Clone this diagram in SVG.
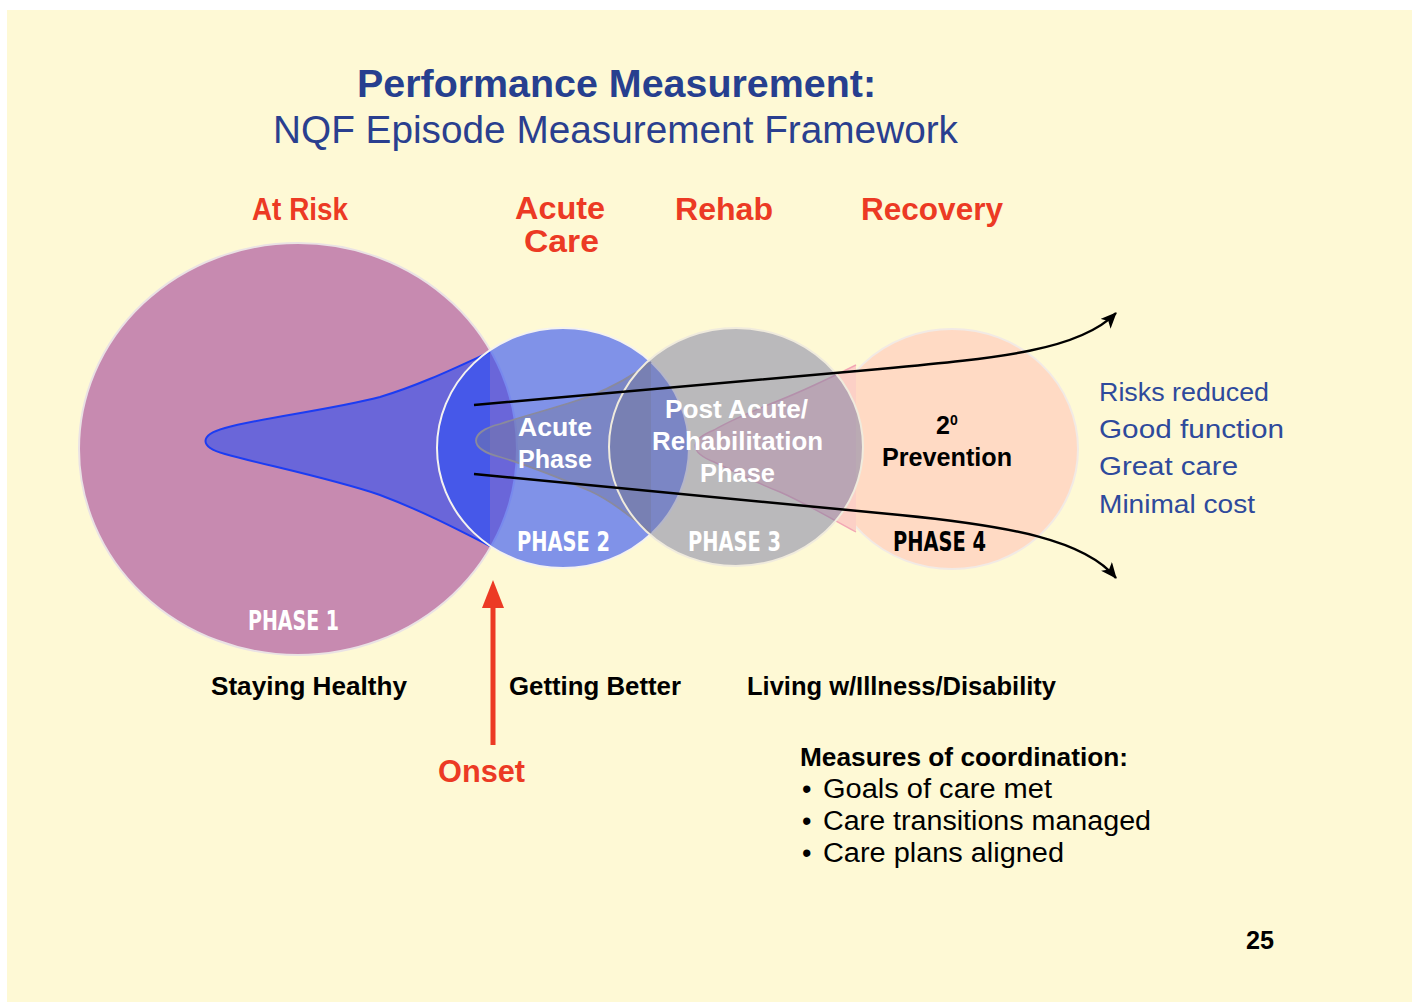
<svg xmlns="http://www.w3.org/2000/svg" width="1412" height="1002" viewBox="0 0 1412 1002">
<defs>
<style>
.t{font-family:'Liberation Sans',Arial,sans-serif}
.b{font-weight:bold}
.red{fill:#EC3A24;font-family:'Liberation Sans',Arial,sans-serif;font-weight:bold;font-size:32px}
.wh{fill:#FFFFFF;font-family:'Liberation Sans',Arial,sans-serif;font-weight:bold;font-size:26px}
.ph{font-family:'Liberation Sans Narrow','DejaVu Sans Condensed','Liberation Sans',sans-serif;font-weight:bold;font-size:26px}
.lst{fill:#2E4A9C;font-family:'Liberation Sans',Arial,sans-serif;font-size:26px}
.blk{fill:#000;font-family:'Liberation Sans',Arial,sans-serif;font-weight:bold;font-size:25px}
.reg{fill:#000;font-family:'Liberation Sans',Arial,sans-serif;font-size:27px}
.conn{fill:none;stroke:#000;stroke-width:2.5}
</style>
<marker id="ah" markerUnits="userSpaceOnUse" markerWidth="18" markerHeight="16" refX="15" refY="7" orient="auto">
<path d="M0,0 L16,7 L0,14 L4,7 Z" fill="#000"/>
</marker>
</defs>
<rect x="0" y="0" width="1412" height="1002" fill="#FFFFFF"/>
<rect x="7" y="10" width="1405" height="992" fill="#FEF9D5"/>

<g id="title">
<text class="t b" x="357" y="97" font-size="38" fill="#263F8F" textLength="519" lengthAdjust="spacingAndGlyphs">Performance Measurement:</text>
<text class="t" x="273" y="143" font-size="38" fill="#2A3F8F" textLength="685" lengthAdjust="spacingAndGlyphs">NQF Episode Measurement Framework</text>
</g>

<g id="stage-labels">
<text class="red" x="252" y="220" textLength="96" lengthAdjust="spacingAndGlyphs">At Risk</text>
<text class="red" x="515" y="219" font-size="30" textLength="90" lengthAdjust="spacingAndGlyphs">Acute</text>
<text class="red" x="524" y="252" font-size="30" textLength="75" lengthAdjust="spacingAndGlyphs">Care</text>
<text class="red" x="675" y="220" textLength="98" lengthAdjust="spacingAndGlyphs">Rehab</text>
<text class="red" x="861" y="220" textLength="142" lengthAdjust="spacingAndGlyphs">Recovery</text>
</g>

<g id="phase1">
<ellipse cx="298" cy="449" rx="219" ry="206" fill="#C78AB0" stroke="#EAE2E4" stroke-width="2"/>
<path d="M490,352 C455,368 420,385 380,397 C330,410 260,418 225,428 C199,435 199,447 225,454 C260,464 330,478 380,495 C420,510 455,528 490,546" fill="rgba(47,80,243,0.61)" stroke="#1C3CF2" stroke-width="2"/>
</g>

<g id="phase2">
<ellipse cx="563" cy="448" rx="126" ry="120" fill="rgba(47,80,243,0.61)" stroke="#F4F2F0" stroke-width="2"/>
<path d="M651,362 C630,378 610,388 590,396 C560,407 530,414 500,424 C468,432 468,449 500,457 C530,466 560,478 590,491 C610,500 630,516 651,533" fill="rgba(117,122,161,0.5)" stroke="#8A8A9C" stroke-width="1.8"/>
</g>

<g id="phase4">
<ellipse cx="952" cy="449" rx="126" ry="120" fill="#FFDAC4" stroke="#F2EAE4" stroke-width="2"/>
<path d="M856,365 C830,378 805,390 780,400 C755,410 735,418 714,430 C689,440 689,452 714,462 C735,472 755,482 780,492 C805,503 830,518 856,532" fill="#FCD0C6" stroke="#F2A6B4" stroke-width="1.4"/>
</g>

<g id="phase3">
<ellipse cx="736" cy="447" rx="127" ry="119" fill="rgba(117,122,161,0.5)" stroke="#F0EBDD" stroke-width="2"/>
</g>

<g id="connectors">
<path class="conn" d="M474,405 L880,369 C1000,358 1080,350 1116,313" marker-end="url(#ah)"/>
<path class="conn" d="M474,474 L900,515 C1010,526 1085,540 1116,578" marker-end="url(#ah)"/>
<line x1="493" y1="745" x2="493" y2="604" stroke="#EC3A24" stroke-width="5"/>
<polygon points="493,580 504,608 482,608" fill="#EC3A24"/>
</g>

<g id="phase-text">
<text class="wh" x="518" y="436" textLength="74" lengthAdjust="spacingAndGlyphs">Acute</text>
<text class="wh" x="518" y="468" textLength="74" lengthAdjust="spacingAndGlyphs">Phase</text>
<text class="wh" x="665" y="418" textLength="143" lengthAdjust="spacingAndGlyphs">Post Acute/</text>
<text class="wh" x="652" y="450" textLength="171" lengthAdjust="spacingAndGlyphs">Rehabilitation</text>
<text class="wh" x="700" y="482" textLength="75" lengthAdjust="spacingAndGlyphs">Phase</text>
<text class="blk" x="936" y="434" font-size="26">2<tspan x="950" y="425" font-size="14">0</tspan></text>
<text class="blk" x="882" y="466" font-size="26" textLength="130" lengthAdjust="spacingAndGlyphs">Prevention</text>
<text class="ph" x="248" y="630" fill="#FFFFFF" textLength="91" lengthAdjust="spacingAndGlyphs">PHASE 1</text>
<text class="ph" x="517" y="551" fill="#FFFFFF" textLength="93" lengthAdjust="spacingAndGlyphs">PHASE 2</text>
<text class="ph" x="688" y="551" fill="#FFFFFF" textLength="93" lengthAdjust="spacingAndGlyphs">PHASE 3</text>
<text class="ph" x="893" y="551" fill="#000000" textLength="93" lengthAdjust="spacingAndGlyphs">PHASE 4</text>
</g>

<g id="outcomes">
<text class="lst" x="1099" y="401" textLength="170" lengthAdjust="spacingAndGlyphs">Risks reduced</text>
<text class="lst" x="1099" y="438" textLength="185" lengthAdjust="spacingAndGlyphs">Good function</text>
<text class="lst" x="1099" y="475" textLength="139" lengthAdjust="spacingAndGlyphs">Great care</text>
<text class="lst" x="1099" y="513" textLength="156" lengthAdjust="spacingAndGlyphs">Minimal cost</text>
</g>

<g id="bottom-labels">
<text class="blk" x="211" y="695" textLength="196" lengthAdjust="spacingAndGlyphs">Staying Healthy</text>
<text class="blk" x="509" y="695" textLength="172" lengthAdjust="spacingAndGlyphs">Getting Better</text>
<text class="blk" x="747" y="695" textLength="309" lengthAdjust="spacingAndGlyphs">Living w/Illness/Disability</text>
<text class="red" x="438" y="782" textLength="87" lengthAdjust="spacingAndGlyphs">Onset</text>
</g>

<g id="coordination">
<text class="blk" x="800" y="766" textLength="328" lengthAdjust="spacingAndGlyphs">Measures of coordination:</text>
<text class="reg" x="802" y="798">•</text>
<text class="reg" x="823" y="798" textLength="229" lengthAdjust="spacingAndGlyphs">Goals of care met</text>
<text class="reg" x="802" y="830">•</text>
<text class="reg" x="823" y="830" textLength="328" lengthAdjust="spacingAndGlyphs">Care transitions managed</text>
<text class="reg" x="802" y="862">•</text>
<text class="reg" x="823" y="862" textLength="241" lengthAdjust="spacingAndGlyphs">Care plans aligned</text>
</g>

<g id="page-number">
<text class="blk" x="1246" y="949" textLength="28" lengthAdjust="spacingAndGlyphs">25</text>
</g>
</svg>
